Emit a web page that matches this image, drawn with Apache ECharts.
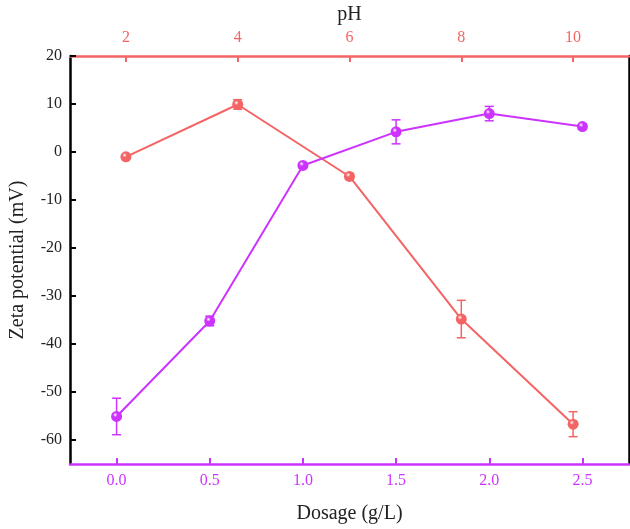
<!DOCTYPE html>
<html><head><meta charset="utf-8">
<script src="https://cdn.jsdelivr.net/npm/echarts@6/dist/echarts.min.js"></script>
<style>html,body{margin:0;padding:0;background:#fff}#c{width:630px;height:529px}</style>
</head><body><div id="c"></div>
<script>
// Data
var phValues = [2, 4, 6, 8, 10];
var zetaPH = [-1, 9.9, -5.1, -34.8, -56.7];
var errPH = [0.3, 1.0, 0.6, 3.9, 2.6];
var dosageValues = [0, 0.5, 1.0, 1.5, 2.0, 2.5];
var zetaDose = [-55.1, -35.2, -2.8, 4.2, 8.0, 5.3];
var errDose = [3.8, 1.0, 0.4, 2.5, 1.5, 0.5];
var dosageTicks = [0, 0.5, 1.0, 1.5, 2.0, 2.5];
var phTicks = [2, 4, 6, 8, 10];
var zetaTicks = [20, 10, 0, -10, -20, -30, -40, -50, -60];

var RED = '#f46464', PURPLE = '#cc33ff';
var FONT = '"Liberation Serif", "Times New Roman", serif';

function ball(c) {
  return new echarts.graphic.RadialGradient(0.38, 0.35, 0.7, [
    {offset: 0, color: '#ffffff'}, {offset: 0.3, color: c}, {offset: 1, color: c}
  ]);
}
function errRender(color) {
  return function (params, api) {
    var x = api.value(0), y = api.value(1), e = api.value(2);
    var t = api.coord([x, y + e]), b = api.coord([x, y - e]);
    var hw = 4.5, st = {stroke: color, lineWidth: 1.5};
    return {type: 'group', children: [
      {type: 'line', shape: {x1: t[0], y1: t[1], x2: b[0], y2: b[1]}, style: st},
      {type: 'line', shape: {x1: t[0] - hw, y1: t[1], x2: t[0] + hw, y2: t[1]}, style: st},
      {type: 'line', shape: {x1: b[0] - hw, y1: b[1], x2: b[0] + hw, y2: b[1]}, style: st}
    ]};
  };
}

var chart = echarts.init(document.getElementById('c'), null, {renderer: 'canvas'});
chart.setOption({
  backgroundColor: '#fff',
  animation: false,
  grid: {left: 68, right: 1, top: 56, bottom: 60},
  xAxis: [{
    type: 'value', position: 'bottom', min: -0.25, max: 2.75,
    name: 'Dosage (g/L)', nameLocation: 'middle', nameGap: 40,
    nameTextStyle: {fontFamily: FONT, fontSize: 20, color: '#222'},
    axisLine: {onZero: false, lineStyle: {color: PURPLE, width: 2.5}},
    axisTick: {inside: true, length: 6, lineStyle: {color: PURPLE, width: 2}, customValues: dosageTicks},
    axisLabel: {margin: 9, fontFamily: FONT, fontSize: 16, color: PURPLE, customValues: dosageTicks,
      formatter: function (v) { return v.toFixed(1); }},
    splitLine: {show: false}
  }, {
    type: 'value', position: 'top', min: 1, max: 11,
    name: 'pH', nameLocation: 'middle', nameGap: 21,
    nameTextStyle: {fontFamily: FONT, fontSize: 20, color: '#222'},
    axisLine: {onZero: false, lineStyle: {color: RED, width: 2.5}},
    axisTick: {inside: true, length: 6, lineStyle: {color: RED, width: 2}, customValues: phTicks},
    axisLabel: {margin: 10, fontFamily: FONT, fontSize: 16, color: RED, customValues: phTicks},
    splitLine: {show: false}
  }],
  yAxis: [{
    type: 'value', position: 'left', min: -65, max: 20,
    name: 'Zeta potential (mV)', nameLocation: 'middle', nameGap: 42,
    nameTextStyle: {fontFamily: FONT, fontSize: 20, color: '#222'},
    axisLine: {onZero: false, lineStyle: {color: '#000', width: 2.5}},
    axisTick: {inside: true, length: 6, lineStyle: {color: '#000', width: 2}, customValues: zetaTicks},
    axisLabel: {margin: 8, fontFamily: FONT, fontSize: 16, color: '#222', customValues: zetaTicks},
    splitLine: {show: false}
  }, {
    type: 'value', position: 'right', min: -65, max: 20,
    axisLine: {show: true, onZero: false, lineStyle: {color: '#000', width: 2.5}},
    axisTick: {show: false}, axisLabel: {show: false}, splitLine: {show: false}
  }],
  series: [{
    type: 'custom', xAxisIndex: 1, yAxisIndex: 0, z: 3,
    renderItem: errRender(RED),
    data: phValues.map(function (p, i) { return [p, zetaPH[i], errPH[i]]; })
  }, {
    type: 'line', xAxisIndex: 1, yAxisIndex: 0, z: 4,
    data: phValues.map(function (p, i) { return [p, zetaPH[i]]; }),
    lineStyle: {color: RED, width: 2}, symbol: 'circle', symbolSize: 11,
    itemStyle: {color: ball(RED)}
  }, {
    type: 'custom', xAxisIndex: 0, yAxisIndex: 0, z: 3,
    renderItem: errRender(PURPLE),
    data: dosageValues.map(function (d, i) { return [d, zetaDose[i], errDose[i]]; })
  }, {
    type: 'line', xAxisIndex: 0, yAxisIndex: 0, z: 4,
    data: dosageValues.map(function (d, i) { return [d, zetaDose[i]]; }),
    lineStyle: {color: PURPLE, width: 2}, symbol: 'circle', symbolSize: 11,
    itemStyle: {color: ball(PURPLE)}
  }]
});
</script></body></html>
